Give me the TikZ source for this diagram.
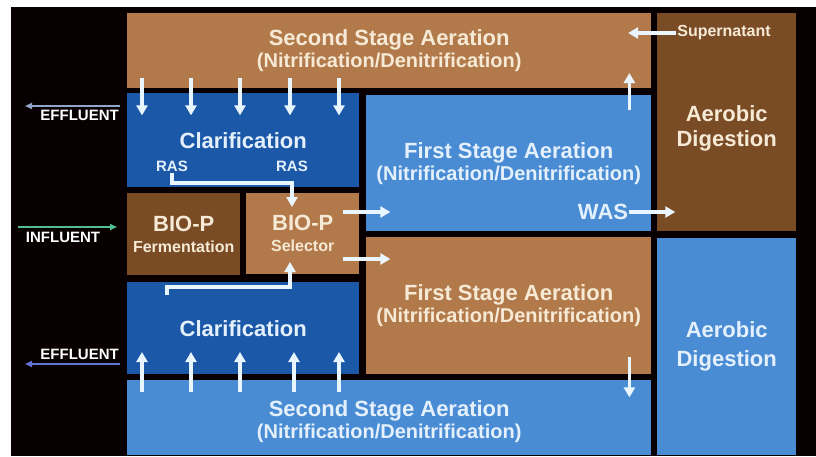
\documentclass[tikz,border=0pt]{standalone}
\usepackage{fontspec}
\setmainfont{Liberation Sans}
\usetikzlibrary{arrows.meta}
\definecolor{tanc}{HTML}{B27A4A}
\definecolor{brownc}{HTML}{7A4C26}
\definecolor{navyc}{HTML}{1C58A8}
\definecolor{skyc}{HTML}{4A8CD4}
\definecolor{creamc}{HTML}{F6EAD6}
\definecolor{icec}{HTML}{E4F0FB}
\definecolor{arrowc}{HTML}{EAF6FF}
\definecolor{effc}{HTML}{8FA6C8}
\definecolor{inflc}{HTML}{4FBF8F}
\newcommand\subline[1]{{\fontsize{20}{22}\selectfont #1}}
\newcommand\smallline[1]{{\fontsize{16}{18}\selectfont #1}}
\tikzset{
  box/.style={inner sep=0pt, align=center, anchor=north west,
    font=\bfseries\fontsize{22}{22}\selectfont},
  tanbox/.style={box, fill=tanc, text=creamc},
  brownbox/.style={box, fill=brownc, text=creamc},
  navybox/.style={box, fill=navyc, text=icec},
  skybox/.style={box, fill=skyc, text=icec},
  boxtext/.style={align=center, inner sep=0pt, font=\bfseries\fontsize{22}{22}\selectfont},
  tag/.style={inner sep=1pt, font=\bfseries\fontsize{15}{17}\selectfont},
  flow/.style={draw=arrowc, line width=3.5pt, -{Triangle[length=10pt,width=11pt]}},
  side/.style={line width=2pt, -{Triangle[length=7pt,width=6pt]}}
}
\begin{document}
\begin{tikzpicture}[x=1pt,y=-1pt]
\useasboundingbox (0,0) rectangle (816,456);
\fill[white] (0,0) rectangle (816,456);
\fill[black!97!red] (11,7) rectangle (816,456);
% tanks
\node[tanbox, minimum width=524pt, minimum height=75pt] (sec1) at (127,13)
  {Second Stage Aeration\\\subline{(Nitrification/Denitrification)}};
\node[brownbox, minimum width=139pt, minimum height=218pt,
  label={[boxtext, text=creamc, yshift=-6pt]center:Aerobic\\[3pt]Digestion}] (dig1) at (657,13) {};
\node[navybox, minimum width=232pt, minimum height=94pt] (clar1) at (127,93)
  {Clarification};
\node[skybox, minimum width=285pt, minimum height=136pt] (fst1) at (366,95)
  {First Stage Aeration\\\subline{(Nitrification/Denitrification)}};
\node[brownbox, minimum width=113pt, minimum height=82pt] (ferm) at (127,193)
  {BIO-P\\[-1pt]\smallline{Fermentation}};
\node[tanbox, minimum width=113pt, minimum height=81pt] (sel) at (246,193)
  {BIO-P\\[-1pt]\smallline{Selector}};
\node[navybox, minimum width=232pt, minimum height=92pt] (clar2) at (127,282)
  {Clarification};
\node[tanbox, minimum width=285pt, minimum height=137pt] (fst2) at (366,237)
  {First Stage Aeration\\\subline{(Nitrification/Denitrification)}};
\node[skybox, minimum width=524pt, minimum height=75pt,
  label={[boxtext, text=icec, yshift=-4pt]center:Second Stage Aeration\\\subline{(Nitrification/Denitrification)}}] (sec2) at (127,380) {};
\node[skybox, minimum width=139pt, minimum height=217pt] (dig2) at (657,238)
  {Aerobic\\[7pt]Digestion};
% labels
\node[tag, text=icec] (ras1) at (172,166) {RAS};
\node[tag, text=icec] (ras2) at (292,166) {RAS};
\node[tag, text=creamc, font=\bfseries\fontsize{16}{18}\selectfont] (supn) at (724,33) {Supernatant};
\node[tag, text=icec, font=\bfseries\fontsize{22}{24}\selectfont] (was) at (603,212) {WAS};
\node[tag, text=white, anchor=east] (eff1) at (120,115) {EFFLUENT};
\node[tag, text=white] (infl) at (63,237) {INFLUENT};
\node[tag, text=white, anchor=east] (eff2) at (120,354) {EFFLUENT};
% flows between tanks
\foreach \d in {15,64,113,163,212}
  \draw[flow] ([xshift=\d pt]sec1.south west) ++(0,-10) -- ++(0,37);
\foreach \d in {15,64,113,167,212}
  \draw[flow] ([xshift=\d pt]sec2.north west) ++(0,12) -- ++(0,-40);
\draw[flow] ([xshift=-22pt]fst1.north east) ++(0,15) -- ++(0,-37);
\draw[flow] ([xshift=-22pt]fst2.south east) ++(0,-17) -- ++(0,40);
\draw[flow] (supn.west) -- ++(-48,0);
\draw[flow] (was.east) -- ++(46,0);
\draw[flow] (sel.east |- 0,212) ++(-16,0) -- ++(47,0);
\draw[flow] (sel.east |- 0,259) ++(-16,0) -- ++(47,0);
% sludge returns
\draw[flow] (ras1.south) |- (ras2.south |- 0,183) -- (ras2.south |- 0,207);
\draw[flow] ([xshift=40pt]clar2.north west) ++(0,13) |- (290,287) -- (290,262);
% plant inlet and outlets
\draw[side, draw=effc] (eff1.east |- 0,106) -- (25,106);
\draw[side, draw=inflc] (18,227) -- (infl.east |- 0,227) -- (117,227);
\draw[side, draw=effc!70!blue] (eff2.east |- 0,364) -- (25,364);
\end{tikzpicture}
\end{document}
